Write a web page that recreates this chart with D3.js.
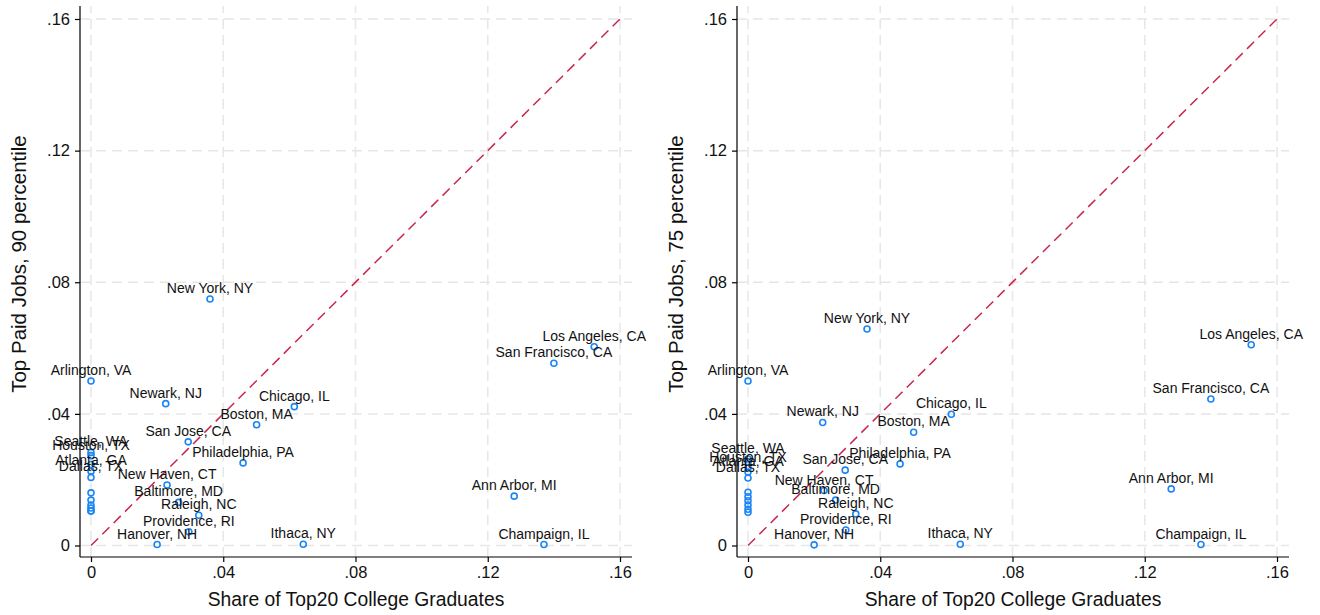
<!DOCTYPE html>
<html>
<head>
<meta charset="utf-8">
<script src="https://cdn.jsdelivr.net/npm/d3@7"></script>
<style>
  body { margin: 0; background: #fff; }
  svg { font-family: Arial, "Liberation Sans", sans-serif; }
</style>
</head>
<body>
<svg id="chart" width="1320" height="615"></svg>
<script>
// City labels (empty string = unlabeled marker)
const cities = [
  "New York, NY", "Los Angeles, CA", "San Francisco, CA", "Arlington, VA",
  "Newark, NJ", "Chicago, IL", "Boston, MA", "San Jose, CA", "Philadelphia, PA",
  "Seattle, WA", "Houston, TX", "Atlanta, GA", "Dallas, TX", "New Haven, CT",
  "Baltimore, MD", "Raleigh, NC", "Providence, RI", "Hanover, NH", "Ithaca, NY",
  "Ann Arbor, MI", "Champaign, IL", "", "", "", "", "", "", ""
];

// Share of Top20 college graduates (x)
const shareTop20 = [
  0.036, 0.1522, 0.140, 0, 0.0226, 0.0615, 0.0501, 0.0294, 0.046,
  0, 0, 0, 0, 0.023, 0.0265, 0.0326, 0.0296, 0.020, 0.0642,
  0.128, 0.137, 0, 0, 0, 0, 0, 0, 0
];

// Top paid jobs, 90 percentile (left panel y)
const topPaid90 = [
  0.0749, 0.0604, 0.0554, 0.050, 0.0431, 0.0422, 0.0367, 0.0315, 0.0251,
  0.0283, 0.0273, 0.0226, 0.0207, 0.0184, 0.0131, 0.0092, 0.0042, 0.0003, 0.0004,
  0.015, 0.0003, 0.0246, 0.0160, 0.0138, 0.0123, 0.0114, 0.0105, 0.0105
];

// Top paid jobs, 75 percentile (right panel y)
const topPaid75 = [
  0.0658, 0.0610, 0.0445, 0.050, 0.0374, 0.0399, 0.0344, 0.0229, 0.0248,
  0.0263, 0.0236, 0.0223, 0.0205, 0.0167, 0.0138, 0.0096, 0.0047, 0.0002, 0.0004,
  0.0172, 0.0003, 0.0254, 0.0162, 0.0148, 0.0136, 0.0123, 0.0110, 0.0101
];

const tickValues = [0, 0.04, 0.08, 0.12, 0.16];
const tickLabels = ["0", ".04", ".08", ".12", ".16"];

const svg = d3.select("#chart");

function drawPanel(left, yValues, yTitle) {
  const g = svg.append("g").attr("transform", `translate(${left},0)`);

  // plot frame edges
  const axisX = 80, axisY = 557, plotTop = 6, plotRight = 632;

  const x = d3.scaleLinear().domain([0, 0.16]).range([91, 620]);
  const y = d3.scaleLinear().domain([0, 0.16]).range([545.5, 19]);

  // Grid lines
  g.selectAll("line.gx")
    .data(tickValues)
    .join("line")
    .attr("class", "gx")
    .attr("x1", d => x(d)).attr("x2", d => x(d))
    .attr("y1", axisY).attr("y2", plotTop)
    .attr("stroke", "#e6e6e6")
    .attr("stroke-width", 1.5)
    .attr("stroke-dasharray", "10,6");
  g.selectAll("line.gy")
    .data(tickValues)
    .join("line")
    .attr("class", "gy")
    .attr("x1", axisX).attr("x2", plotRight)
    .attr("y1", d => y(d)).attr("y2", d => y(d))
    .attr("stroke", "#e6e6e6")
    .attr("stroke-width", 1.5)
    .attr("stroke-dasharray", "10,6");

  // 45 degree line
  g.append("line")
    .attr("x1", x(0)).attr("y1", y(0))
    .attr("x2", x(0.16)).attr("y2", y(0.16))
    .attr("stroke", "#c8264f")
    .attr("stroke-width", 1.5)
    .attr("stroke-dasharray", "10,6");

  // Axes
  const xAxis = d3.axisBottom(x)
    .tickValues(tickValues)
    .tickFormat((d, i) => tickLabels[i])
    .tickSize(5)
    .tickPadding(4);
  const xg = g.append("g").attr("transform", `translate(0,${axisY})`).call(xAxis);
  xg.select(".domain").attr("d", `M${axisX},0H${plotRight}`);

  const yAxis = d3.axisLeft(y)
    .tickValues(tickValues)
    .tickFormat((d, i) => tickLabels[i])
    .tickSize(5)
    .tickPadding(5);
  const yg = g.append("g").attr("transform", `translate(${axisX},0)`).call(yAxis);
  yg.select(".domain").attr("d", `M0,${axisY}V${plotTop}`);

  [xg, yg].forEach(a => {
    a.selectAll(".domain").attr("stroke", "#000").attr("stroke-width", 1.2);
    a.selectAll(".tick line").attr("stroke", "#000").attr("stroke-width", 1.2);
    a.selectAll(".tick text")
      .attr("fill", "#111")
      .style("font-size", "16.5px")
      .style("font-family", "Arial, 'Liberation Sans', sans-serif");
  });

  // Axis titles
  g.append("text")
    .attr("x", (axisX + plotRight) / 2)
    .attr("y", 606)
    .attr("text-anchor", "middle")
    .attr("fill", "#111")
    .style("font-size", "19.3px")
    .text("Share of Top20 College Graduates");
  g.append("text")
    .attr("transform", `translate(26,${264}) rotate(-90)`)
    .attr("text-anchor", "middle")
    .attr("fill", "#111")
    .style("font-size", "20.5px")
    .text(yTitle);

  const data = cities.map((c, i) => ({ name: c, x: shareTop20[i], y: yValues[i] }));

  // Markers
  g.selectAll("circle.pt")
    .data(data)
    .join("circle")
    .attr("class", "pt")
    .attr("cx", d => x(d.x))
    .attr("cy", d => y(d.y))
    .attr("r", 3)
    .attr("fill", "none")
    .attr("stroke", "#1a86f5")
    .attr("stroke-width", 1.6);

  // Labels, centered above markers
  g.selectAll("text.lbl")
    .data(data.filter(d => d.name !== ""))
    .join("text")
    .attr("class", "lbl")
    .attr("x", d => x(d.x))
    .attr("y", d => y(d.y) - 6)
    .attr("text-anchor", "middle")
    .attr("fill", "#111")
    .style("font-size", "14px")
    .text(d => d.name);
}

drawPanel(0, topPaid90, "Top Paid Jobs, 90 percentile");
drawPanel(657, topPaid75, "Top Paid Jobs, 75 percentile");
</script>
</body>
</html>
